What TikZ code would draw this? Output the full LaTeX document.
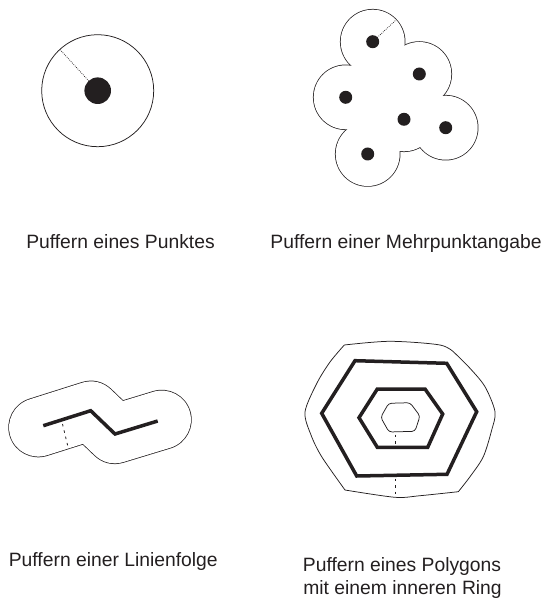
\documentclass[tikz,border=0pt]{standalone}
\usepackage{fontspec}
\setmainfont{Liberation Sans}
\usetikzlibrary{calc}
\definecolor{ink}{HTML}{231F20}
\begin{document}
\begin{tikzpicture}[x=1pt,y=-1pt,
  thinline/.style={draw=ink,line width=0.75pt},
  thickline/.style={draw=ink,line width=3.5pt,line join=miter},
  fineDots/.style={draw=ink,line width=0.7pt,dash pattern=on 0.8pt off 1.2pt},
  gapDots/.style={draw=ink,line width=0.8pt,dash pattern=on 2.5pt off 4pt},
  lab/.style={text=ink,font=\fontsize{19.3}{22.6}\selectfont,inner sep=0pt,anchor=base}]
\path[use as bounding box] (0,0) rectangle (548,601);

% ---- Point buffer
\coordinate (pc) at (97.7,90.7);
\draw[thinline] (pc) circle[radius=56];
\coordinate (pr) at ($(pc)+(-132.5:56)$);
\draw[fineDots] ($(pc)+(-132.5:13)$) -- (pr);
\fill[ink] (pc) circle[radius=13.3];

% ---- Multipoint buffer
\coordinate (m1) at (372.7,41.7);
\coordinate (m2) at (419.3,74);
\coordinate (m3) at (345.7,97.3);
\coordinate (m4) at (404,119.3);
\coordinate (m5) at (445.7,127.7);
\coordinate (m6) at (367.7,154);
\foreach \p in {m1,m2,m3,m4,m5,m6}{\draw[ink,line width=1.5pt] (\p) circle[radius=32];}
\foreach \p in {m1,m2,m3,m4,m5,m6}{\fill[white] (\p) circle[radius=32];}
\fill[white] (m1) -- (m2) -- (m5) -- (m4) -- (m6) -- (m3) -- cycle;
\coordinate (mr) at (396,20);
\draw[fineDots] (m1) -- (mr);
\foreach \p in {m1,m2,m3,m4,m5,m6}{\fill[ink] (\p) circle[radius=6.5];}

% ---- Line buffer
\coordinate (l0) at (38.3,427.3);
\coordinate (l1) at (43.3,425.7);
\coordinate (l2) at (90.7,410.7);
\coordinate (l3) at (115,434);
\coordinate (l4) at (157.7,421);
\coordinate (l5) at (161.7,419.8);
\draw[ink,line width=60pt,line cap=round,line join=round] (l0) -- (l2) -- (l3) -- (l5);
\draw[white,line width=58.5pt,line cap=round,line join=round] (l0) -- (l2) -- (l3) -- (l5);
\draw[thickline] (l1) -- (l2) -- (l3) -- (l4);
\coordinate (la) at (62.5,424);
\coordinate (lb) at (68,447);
\draw[gapDots] (la) -- (lb);

% ---- Polygon buffer
\draw[thinline,line join=round]
  plot[smooth] coordinates {(344.3,345) (390,341.3) (440,345) (455,353.3)}
  -- plot[smooth] coordinates {(455,353.3) (470,368.3) (485,386.7) (495,411.7) (491.7,430) (483.3,456.7) (470,476.7) (458.3,491.7)}
  -- plot[smooth] coordinates {(458.3,491.7) (420,495.7) (395,497.3) (345,490)}
  -- plot[smooth] coordinates {(345,490) (321.7,456.7) (311,435) (305,412) (317,383) (330,362) (344.3,345)}
  -- cycle;
\draw[thickline] (355,360.7) -- (446.7,363.3) -- (476.7,411.7) -- (447,474.3) -- (356.7,476) -- (321.7,413.3) -- cycle;
\draw[thickline] (377.3,389) -- (425,389) -- (442.7,414) -- (427.7,447.3) -- (377.3,447.3) -- (359,417.7) -- cycle;
\draw[thinline,rounded corners=3pt] (388.7,403.3) -- (410,402.7) -- (420,416) -- (415,431.3) -- (389,432) -- (380.7,417.3) -- cycle;
\coordinate (pa) at (395,434.5);
\coordinate (pb) at (395,446);
\coordinate (pcx) at (395,478.5);
\coordinate (pd) at (395,494);
\draw[gapDots] (pa) -- (pb);
\draw[gapDots] (pcx) -- (pd);

% ---- Labels
\node[lab] (t1) at (120.5,248.3) {Puffern eines Punktes};
\node[lab] (t2) at (406,248.3) {Puffern einer Mehrpunktangabe};
\node[lab] (t3) at (113.3,566) {Puffern einer Linienfolge};
\node[lab] (t4) at (402,571.7) {Puffern eines Polygons};
\node[lab] (t5) at (402.5,594.3) {mit einem inneren Ring};
\end{tikzpicture}
\end{document}
